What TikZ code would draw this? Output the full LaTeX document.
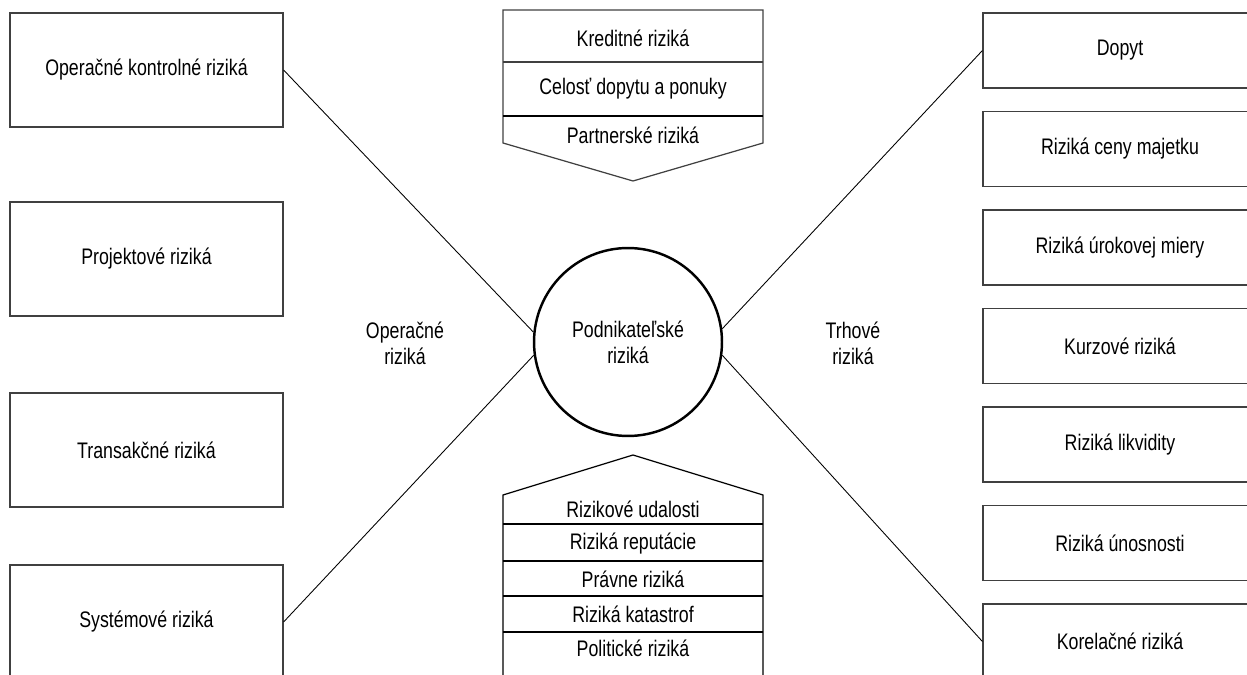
\documentclass[tikz,border=0pt]{standalone}
\usepackage{fontspec}
\setmainfont[FakeStretch=0.79]{Liberation Sans}

\begin{document}
\begin{tikzpicture}[x=0.02cm,y=-0.02cm,
  every node/.style={font=\fontsize{12.8}{14.8}\selectfont,align=center},
  riskbox/.style={draw=black!75,line width=0.7pt,minimum width=5.46cm,minimum height=2.28cm,inner sep=0pt},
  marketbox/.style={draw=black!75,line width=0.7pt,minimum width=5.48cm,minimum height=1.5cm,inner sep=0pt},
  label/.style={inner sep=0pt}]
\useasboundingbox (0,0) rectangle (1247,675);
\clip (0,0) rectangle (1247,675);

\node[riskbox] (okr) at (146.5,70) {Operačné kontrolné riziká};
\node[riskbox] (pjr) at (146.5,259) {Projektové riziká};
\node[riskbox] (trr) at (146.5,450) {Transakčné riziká};
\node[riskbox] (syr) at (146.5,622) {Systémové riziká};

\node[marketbox] (dop) at (1120,50.5) {Dopyt};
\node[marketbox] (rcm) at (1120,149) {Riziká ceny majetku};
\node[marketbox] (rum) at (1120,247.5) {Riziká úrokovej miery};
\node[marketbox] (kur) at (1120,346) {Kurzové riziká};
\node[marketbox] (rli) at (1120,444.5) {Riziká likvidity};
\node[marketbox] (run) at (1120,543) {Riziká únosnosti};
\node[marketbox] (kor) at (1120,641.5) {Korelačné riziká};

\node[circle,draw,line width=1.4pt,minimum size=3.76cm,inner sep=0pt] (pr) at (628,342) {Podnikateľské\\riziká};

\node[label] (opr) at (405,343) {Operačné\\riziká};
\node[label] (thr) at (853,343) {Trhové\\riziká};

% horny blok
\draw[draw=black!75,line width=0.7pt] (503,10) -- (763,10) -- (763,143) -- (633,181) -- (503,143) -- cycle;
\draw[draw=black!75,line width=0.7pt] (503,62) -- (763,62);
\draw[line width=0.7pt] (503,116) -- (763,116);
\node[label] (kre) at (633,38) {Kreditné riziká};
\node[label] (cel) at (633,89) {Celosť dopytu a ponuky};
\node[label] (par) at (633,135) {Partnerské riziká};

% dolny blok
\draw[line width=0.7pt] (503,690) -- (503,495) -- (633,455) -- (763,495) -- (763,690);
\draw[line width=0.7pt] (503,524) -- (763,524);
\draw[line width=0.7pt] (503,561) -- (763,561);
\draw[line width=0.7pt] (503,596) -- (763,596);
\draw[line width=0.7pt] (503,632) -- (763,632);
\node[label] (rud) at (633,509) {Rizikové udalosti};
\node[label] (rre) at (633,544) {Riziká reputácie};
\node[label] (prr) at (633,579) {Právne riziká};
\node[label] (rka) at (633,614) {Riziká katastrof};
\node[label] (pol) at (633,648) {Politické riziká};

\draw[line width=0.5pt] (okr.east) -- (pr.174);
\draw[line width=0.5pt] (syr.east) -- (pr.188);
\draw[line width=0.5pt] (dop.west) -- (pr.8);
\draw[line width=0.5pt] (kor.west) -- (pr.-8);

\end{tikzpicture}
\end{document}
